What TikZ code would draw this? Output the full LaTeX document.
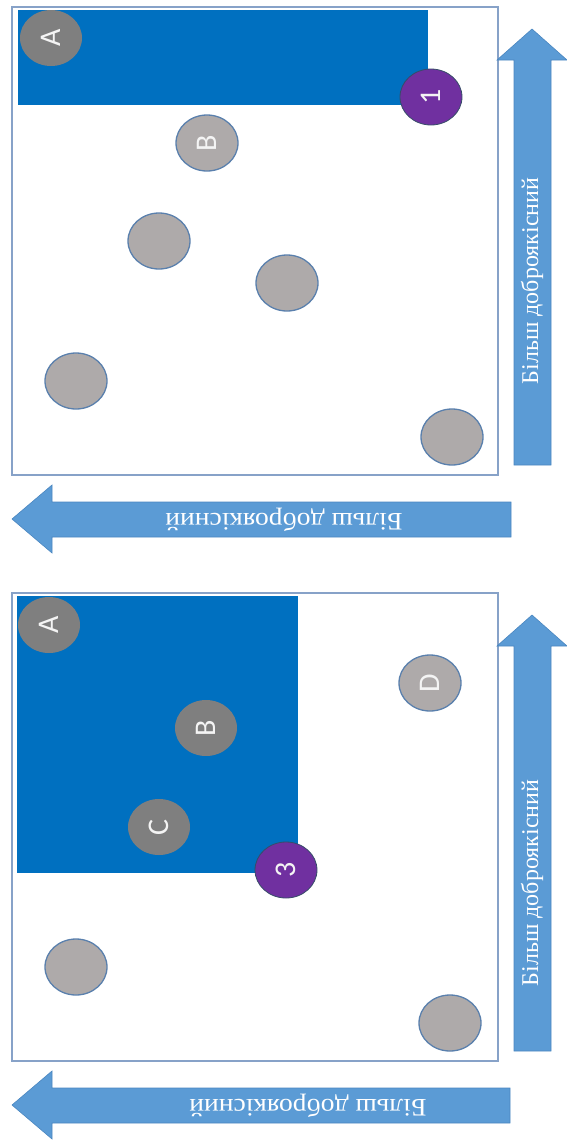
\documentclass[tikz,border=0pt]{standalone}
\usepackage{fontspec}
\setmainfont{Liberation Serif}
\newfontfamily\dotfont{Carlito}
\usetikzlibrary{shapes.geometric}

\definecolor{fieldblue}{HTML}{0070C0}
\definecolor{arrowblue}{HTML}{5B9BD5}
\definecolor{arrowedge}{HTML}{4A86C0}
\definecolor{framecol}{RGB}{135,162,200}
\definecolor{dotdark}{HTML}{7F7F7F}
\definecolor{dotlight}{HTML}{AEAAAA}
\definecolor{dotedge}{HTML}{5A80AD}
\definecolor{dotpurple}{HTML}{7030A0}
\definecolor{dottext}{HTML}{F4F4F4}

\tikzset{
  dot/.style={ellipse, minimum width=62pt, minimum height=56pt, inner sep=0pt,
    font=\dotfont\fontsize{30}{30}\selectfont, text=dottext},
  darkdot/.style={dot, fill=dotdark},
  lightdot/.style={dot, fill=dotlight, draw=dotedge, line width=1.3pt},
  pickdot/.style={dot, fill=dotpurple, draw=dotedge!60!black, line width=0.8pt},
  axislabel/.style={font=\fontsize{24}{24}\selectfont, text=white, inner sep=0pt},
  arrowshape/.style={fill=arrowblue, draw=arrowedge, line width=0.6pt},
  panel/.style={draw=framecol, line width=1.3pt},
  region/.style={fill=fieldblue}
}

\begin{document}
\begin{tikzpicture}[x=1pt, y=-1pt]
\useasboundingbox (0,0) rectangle (567,1144);

% ---------- upper panel ----------
\draw[panel] (12,7) rectangle (498,475);
\fill[region] (18,10) rectangle (428,105);

\node[darkdot]  (uA) at (51,38)   {\rotatebox{90}{A}};
\node[pickdot]  (u1) at (431,97)  {\rotatebox{90}{1}};
\node[lightdot] (uB) at (207,143) {\rotatebox{90}{B}};
\node[lightdot] (ue1) at (159,241) {};
\node[lightdot] (ue2) at (287,283) {};
\node[lightdot] (ue3) at (76,381)  {};
\node[lightdot] (ue4) at (452,437) {};

% vertical axis arrow
\filldraw[arrowshape] (514,465) -- (514,60) -- (497,60) -- (532,29)
  -- (567,60) -- (551,60) -- (551,465) -- cycle;
\node[axislabel, rotate=90] (uvl) at (532,281) {Більш доброякісний};

% horizontal axis arrow
\filldraw[arrowshape] (511,502) -- (52,502) -- (52,485) -- (12,519)
  -- (52,553) -- (52,537) -- (511,537) -- cycle;
\node[axislabel, rotate=180] (uhl) at (284,520) {\scalebox{1.15}[1.05]{Більш доброякісний}};

% ---------- lower panel ----------
\draw[panel] (12,593) rectangle (498,1061);
\fill[region] (17,596) rectangle (298,873);

\node[darkdot]  (lA) at (49,625)  {\rotatebox{90}{A}};
\node[darkdot]  (lB) at (206,728) {\rotatebox{90}{B}};
\node[darkdot]  (lC) at (159,827) {\rotatebox{90}{C}};
\node[pickdot]  (l3) at (286,870) {\rotatebox{90}{3}};
\node[lightdot] (lD) at (430,683) {\rotatebox{90}{D}};
\node[lightdot] (le1) at (76,967)   {};
\node[lightdot] (le2) at (450,1023) {};

% vertical axis arrow
\filldraw[arrowshape] (514,1051) -- (514,646) -- (497,646) -- (532,615)
  -- (567,646) -- (551,646) -- (551,1051) -- cycle;
\node[axislabel, rotate=90] (lvl) at (532,883) {Більш доброякісний};

% horizontal axis arrow
\filldraw[arrowshape] (510,1088) -- (52,1088) -- (52,1071) -- (12,1105)
  -- (52,1139) -- (52,1123) -- (510,1123) -- cycle;
\node[axislabel, rotate=180] (lhl) at (308,1106) {\scalebox{1.15}[1.05]{Більш доброякісний}};
\end{tikzpicture}
\end{document}
